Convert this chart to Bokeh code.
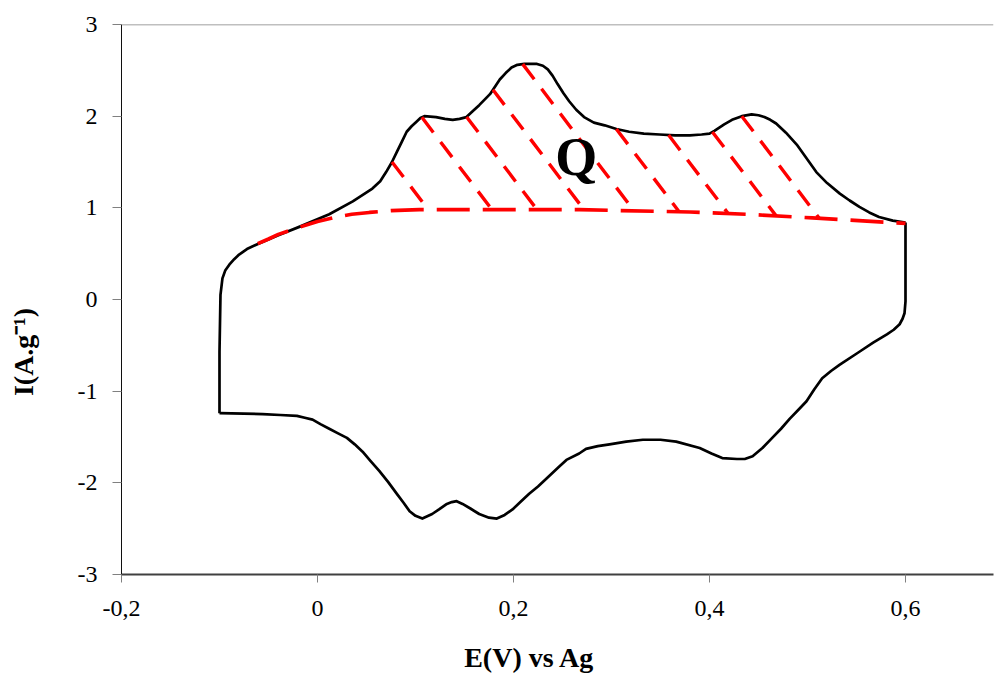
import numpy as np
from bokeh.plotting import figure
from bokeh.models import Range1d, FixedTicker, Label, Span
from bokeh.embed import file_html
from bokeh.resources import INLINE

# Anodic (upper) branch, E in V vs Ag, I in A/g
anodic_E = [-0.100, -0.100, -0.099, -0.097, -0.094, -0.090, -0.085, -0.080, -0.072, -0.062,
            -0.040, -0.018, 0.012, 0.036, 0.056, 0.064, 0.070, 0.076, 0.081, 0.086,
            0.091, 0.096, 0.101, 0.105, 0.109, 0.121, 0.130, 0.138, 0.145, 0.152,
            0.158, 0.165, 0.176, 0.186, 0.192, 0.198, 0.204, 0.211, 0.224, 0.230,
            0.235, 0.240, 0.245, 0.251, 0.257, 0.264, 0.272, 0.282, 0.293, 0.305,
            0.318, 0.333, 0.349, 0.365, 0.380, 0.392, 0.400, 0.405, 0.415, 0.423,
            0.433, 0.443, 0.450, 0.456, 0.462, 0.468, 0.478, 0.489, 0.499, 0.509,
            0.520, 0.533, 0.543, 0.553, 0.563, 0.573, 0.587, 0.600]
anodic_I = [-1.24, -0.57, 0.05, 0.23, 0.32, 0.38, 0.44, 0.49, 0.55, 0.60,
            0.70, 0.795, 0.93, 1.07, 1.21, 1.29, 1.39, 1.50, 1.61, 1.72,
            1.83, 1.89, 1.94, 1.98, 2.00, 1.99, 1.97, 1.96, 1.97, 1.99,
            2.05, 2.12, 2.24, 2.40, 2.47, 2.53, 2.56, 2.57, 2.57, 2.55,
            2.51, 2.44, 2.35, 2.25, 2.16, 2.07, 1.99, 1.93, 1.90, 1.86,
            1.83, 1.81, 1.80, 1.79, 1.79, 1.80, 1.81, 1.84, 1.91, 1.96,
            2.00, 2.02, 2.01, 1.99, 1.96, 1.92, 1.82, 1.69, 1.54, 1.39,
            1.27, 1.155, 1.08, 1.01, 0.95, 0.90, 0.86, 0.84]

# Cathodic (lower) branch
cath_E = [0.600, 0.600, 0.599, 0.597, 0.594, 0.588, 0.581, 0.567, 0.553, 0.533,
          0.524, 0.515, 0.507, 0.499, 0.491, 0.482, 0.473, 0.464, 0.454, 0.444,
          0.436, 0.428, 0.413, 0.402, 0.390, 0.366, 0.350, 0.332, 0.315, 0.298,
          0.286, 0.274, 0.267, 0.254, 0.247, 0.234, 0.225, 0.216, 0.207, 0.199,
          0.191, 0.183, 0.175, 0.165, 0.156, 0.148, 0.142, 0.137, 0.132, 0.124,
          0.117, 0.107, 0.100, 0.094, 0.088, 0.081, 0.072, 0.063, 0.054, 0.046,
          0.038, 0.030, 0.021, 0.012, 0.003, -0.005, -0.013, -0.021, -0.038, -0.056,
          -0.100]
cath_I = [0.84, -0.02, -0.15, -0.21, -0.27, -0.33, -0.38, -0.47, -0.57, -0.71,
          -0.78, -0.86, -0.98, -1.11, -1.20, -1.30, -1.41, -1.51, -1.62, -1.71,
          -1.74, -1.74, -1.73, -1.68, -1.62, -1.55, -1.53, -1.53, -1.55, -1.58,
          -1.60, -1.63, -1.68, -1.75, -1.82, -1.95, -2.04, -2.12, -2.21, -2.29,
          -2.35, -2.39, -2.38, -2.34, -2.28, -2.23, -2.20, -2.21, -2.23, -2.29,
          -2.34, -2.39, -2.36, -2.31, -2.22, -2.12, -1.99, -1.87, -1.76, -1.66,
          -1.58, -1.51, -1.46, -1.41, -1.36, -1.31, -1.29, -1.27, -1.26, -1.25,
          -1.24]

# Capacitive baseline (red dashed)
base_E = [-0.061, -0.050, -0.040, -0.029, -0.018, -0.009, 0.000, 0.019, 0.035, 0.053,
          0.075, 0.104, 0.172, 0.267, 0.308, 0.380, 0.438, 0.505, 0.600]
base_I = [0.61, 0.66, 0.71, 0.75, 0.79, 0.82, 0.85, 0.90, 0.93, 0.95,
          0.97, 0.98, 0.98, 0.98, 0.97, 0.955, 0.93, 0.89, 0.83]

# Hatch lines of the area Q: foot positions on the baseline
hatch_foot_E = [0.113, 0.178, 0.224, 0.272, 0.323, 0.369, 0.419, 0.468, 0.512]
hatch_slope = 14.1  # A/g per V (steepness of the hatch lines)

x_ticks = [-0.2, 0.0, 0.2, 0.4, 0.6]
x_tick_labels = ["-0,2", "0", "0,2", "0,4", "0,6"]
y_ticks = [-3, -2, -1, 0, 1, 2, 3]
y_tick_labels = ["-3", "-2", "-1", "0", "1", "2", "3"]

x_title = "E(V) vs Ag"
y_title = "I(A.g\u207b\u00b9)"

FONT = "Liberation Serif"
NBSP = "\u00a0"

p = figure(width=995, height=675, output_backend="svg", toolbar_location=None,
           x_range=Range1d(-0.2, 0.6898), y_range=Range1d(-3, 3),
           min_border_left=121, min_border_right=2, min_border_top=24,
           min_border_bottom=101)
p.outline_line_color = None
p.xgrid.grid_line_color = None
p.ygrid.grid_line_color = None
p.background_fill_color = "white"
p.border_fill_color = "white"

# axes
p.xaxis.ticker = FixedTicker(ticks=x_ticks)
p.xaxis.major_label_overrides = {t: l for t, l in zip(x_ticks, x_tick_labels)}
p.yaxis.ticker = FixedTicker(ticks=y_ticks)
p.yaxis.major_label_overrides = {t: l for t, l in zip(y_ticks, y_tick_labels)}
for ax in (p.xaxis[0], p.yaxis[0]):
    ax.major_label_text_font = FONT
    ax.major_label_text_font_size = "24px"
    ax.major_label_text_color = "black"
    ax.minor_tick_line_color = None
    ax.major_tick_in = 0
    ax.major_tick_line_color = "#808080"
    ax.axis_label_text_font = FONT
    ax.axis_label_text_font_size = "28px"
    ax.axis_label_text_font_style = "bold"
    ax.axis_label_text_color = "black"
p.xaxis.major_tick_out = 8
p.xaxis.major_label_standoff = 18
p.xaxis.axis_line_color = "#404040"
p.xaxis.axis_line_width = 2
# the title sits left of the frame centre, as in the original: pad it on the right
p.xaxis.axis_label = x_title + NBSP * 8
p.xaxis.axis_label_standoff = 23
p.yaxis.major_tick_out = 9
p.yaxis.major_label_standoff = 15
p.yaxis.axis_line_color = "#101010"
p.yaxis.axis_line_width = 1
# the title sits below the frame centre, as in the original: pad its upper end
p.yaxis.axis_label = y_title + NBSP * 15
p.yaxis.axis_label_standoff = 36

# top border
p.add_layout(Span(location=3, dimension="width", line_color="#808080", line_width=1.5))

# CV curve
p.line(anodic_E, anodic_I, line_color="black", line_width=2.7, line_join="round")
p.line(cath_E, cath_I, line_color="black", line_width=2.7, line_join="round")

# baseline
p.line(base_E, base_I, line_color="#FF0000", line_width=3.6, line_dash="33 13")

# hatch lines between the baseline and the anodic curve
aE = np.array(anodic_E[1:], dtype=float)
aI = np.array(anodic_I[1:], dtype=float)
x0s, y0s, x1s, y1s = [], [], [], []
for xb in hatch_foot_E:
    yb = float(np.interp(xb, base_E, base_I))
    xs = np.linspace(xb, xb - 0.25, 5000)
    line_y = yb + hatch_slope * (xb - xs)
    curve_y = np.interp(xs, aE, aI)
    idx = np.argmax(line_y >= curve_y)
    x0s.append(float(xs[idx])); y0s.append(float(curve_y[idx]))
    x1s.append(xb); y1s.append(yb)
p.segment(x0=x0s, y0=y0s, x1=x1s, y1=y1s, line_color="#FF0000",
          line_width=3.4, line_dash="19 12")

# Q label
p.add_layout(Label(x=0.264, y=1.56, text="Q", text_font=FONT, text_font_size="54px",
                   text_font_style="bold", text_align="center",
                   text_baseline="alphabetic", text_color="black"))

open("out.html", "w").write(file_html(p, INLINE))
